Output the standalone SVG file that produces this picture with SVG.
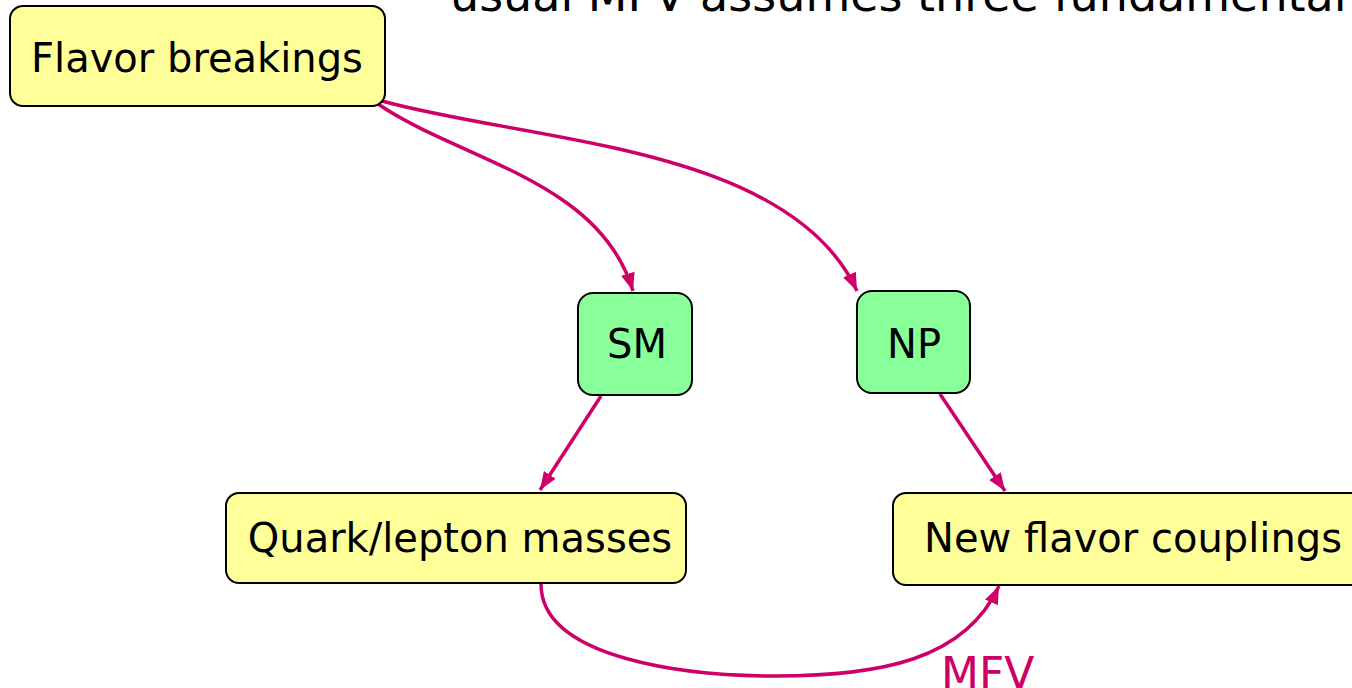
<svg xmlns="http://www.w3.org/2000/svg" width="1352" height="688" viewBox="0 0 1352 688">
<defs>
<style>
.box{stroke:#000;stroke-width:2}
.y{fill:#FFFF99}
.g{fill:#88FF99}
.t{font-family:"DejaVu Sans",Verdana,sans-serif;font-size:40px;fill:#000}
.c{fill:none;stroke:#CC0066;stroke-width:3.5}
.lbl{font-family:"DejaVu Sans",Verdana,sans-serif;font-size:44px;fill:#CC0066}
</style>
<marker id="ah" markerUnits="userSpaceOnUse" markerWidth="20" markerHeight="20" viewBox="0 0 20 20" refX="18" refY="10" orient="auto">
<path d="M0,3 L18,10 L0,17 Z" fill="#CC0066"/>
</marker>
</defs>
<rect width="1352" height="688" fill="#fff"/>
<text class="t" x="450" y="11" style="font-size:46px">usual MFV assumes three fundamental</text>
<g id="connectors">
<path class="c" d="M378,104 C460,160 600,180 633,291" marker-end="url(#ah)"/>
<path class="c" d="M382,101 C530,142 790,145 857,291" marker-end="url(#ah)"/>
<path class="c" d="M601,396 L540,490" marker-end="url(#ah)"/>
<path class="c" d="M940,394 L1005,491" marker-end="url(#ah)"/>
<path class="c" d="M541,584 C541,660 690,676 775,676 C880,676 965,660 999,586" marker-end="url(#ah)"/>
</g>
<g id="flavor">
<rect class="box y" x="10" y="6" width="375" height="100" rx="13"/>
<text class="t" x="197" y="72" text-anchor="middle">Flavor breakings</text>
</g>
<g id="sm">
<rect class="box g" x="578" y="293" width="114" height="102" rx="15"/>
<text class="t" x="637" y="358" text-anchor="middle">SM</text>
</g>
<g id="np">
<rect class="box g" x="857" y="291" width="113" height="102" rx="15"/>
<text class="t" x="914" y="358" text-anchor="middle">NP</text>
</g>
<g id="quark">
<rect class="box y" x="226" y="493" width="460" height="90" rx="13"/>
<text class="t" x="460" y="552" text-anchor="middle">Quark/lepton masses</text>
</g>
<g id="newflavor">
<rect class="box y" x="893" y="493" width="480" height="92" rx="13"/>
<text class="t" x="924" y="552">New flavor couplings</text>
</g>
<g id="mfv">
<text class="lbl" x="941" y="689">MFV</text>
</g>
</svg>
